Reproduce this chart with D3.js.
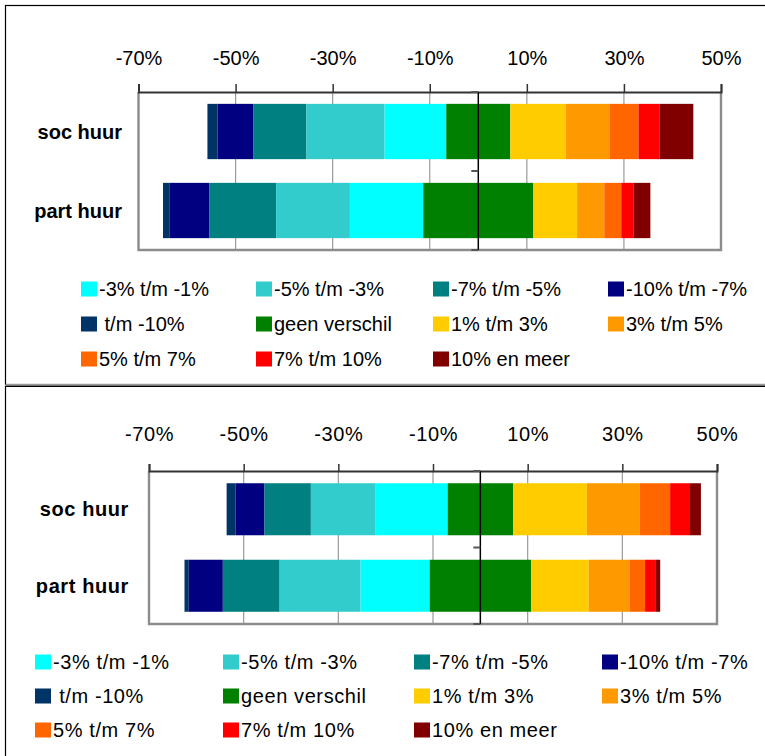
<!DOCTYPE html>
<html>
<head>
<meta charset="utf-8">
<script src="https://cdn.jsdelivr.net/npm/d3@7"></script>
<style>
  html, body { margin: 0; padding: 0; background: #fff; }
  svg { display: block; font-family: "Liberation Sans", Arial, sans-serif; }
</style>
</head>
<body>
<svg id="chart" width="765" height="756"></svg>
<script>
// Categories and classes of the difference distribution
const categories = ["soc huur", "part huur"];

// Classes in stacking order, left to right
const stackOrder = ["t/m -10%", "-10% t/m -7%", "-7% t/m -5%", "-5% t/m -3%", "-3% t/m -1%",
  "geen verschil", "1% t/m 3%", "3% t/m 5%", "5% t/m 7%", "7% t/m 10%", "10% en meer"];
const stackColors = ["#003366", "#000080", "#008080", "#33CCCC", "#00FFFF",
  "#008000", "#FFCC00", "#FF9900", "#FF6600", "#FF0000", "#800000"];

// Legend order (row by row, four per row)
const legendOrder = ["-3% t/m -1%", "-5% t/m -3%", "-7% t/m -5%", "-10% t/m -7%",
  " t/m -10%", "geen verschil", "1% t/m 3%", "3% t/m 5%",
  "5% t/m 7%", "7% t/m 10%", "10% en meer"];
const legendColors = ["#00FFFF", "#33CCCC", "#008080", "#000080",
  "#003366", "#008000", "#FFCC00", "#FF9900",
  "#FF6600", "#FF0000", "#800000"];

const tickValues = [-70, -50, -30, -10, 10, 30, 50];

// Shares (%) per class in stacking order
const upperSocHuur  = [2.1, 7.4, 10.9, 16.1, 12.7, 13.2, 11.4, 9.0, 6.0, 4.3, 7.0];
const upperPartHuur = [1.3, 8.2, 13.8, 15.2, 15.1, 22.7, 9.0, 5.6, 3.5, 2.5, 3.5];
const lowerSocHuur  = [1.9, 6.1, 9.8, 13.7, 15.2, 13.8, 15.6, 11.2, 6.4, 4.2, 2.3];
const lowerPartHuur = [0.9, 7.2, 12.0, 17.1, 14.6, 21.4, 12.2, 8.7, 3.2, 2.3, 0.9];

const svg = d3.select("#chart");

// Panel frames
svg.append("rect").attr("x", 5.5).attr("y", 5.5).attr("width", 800).attr("height", 379)
  .attr("fill", "none").attr("stroke", "#000").attr("stroke-width", 1.2);
svg.append("line").attr("x1", 5.5).attr("x2", 800).attr("y1", 384.5).attr("y2", 384.5)
  .attr("stroke", "#999").attr("stroke-width", 1);
svg.append("line").attr("x1", 5.5).attr("x2", 800).attr("y1", 386.2).attr("y2", 386.2)
  .attr("stroke", "#000").attr("stroke-width", 1.6);
svg.append("line").attr("x1", 5.5).attr("x2", 5.5).attr("y1", 386).attr("y2", 760)
  .attr("stroke", "#000").attr("stroke-width", 1.2);

function drawPanel(cfg) {
  const g = svg.append("g");
  const ls = cfg.letterSpacing;
  const x = d3.scaleLinear().domain([-70, 50]).range([cfg.x0, cfg.x1]);
  const y = d3.scaleBand().domain(categories).range([cfg.y0, cfg.y1])
    .paddingInner(cfg.padIn).paddingOuter(cfg.padOut);

  // gridlines
  g.append("g").selectAll("line").data(tickValues.slice(1, -1)).join("line")
    .attr("x1", d => x(d)).attr("x2", d => x(d))
    .attr("y1", cfg.y0).attr("y2", cfg.y1)
    .attr("stroke", "#9a9a9a").attr("stroke-width", 1.2);

  // stacked bars, neutral class centred on zero
  const rows = [cfg.soc, cfg.part];
  rows.forEach((vals, ri) => {
    const neg = d3.sum(vals.slice(0, 5));
    const start = -(neg + vals[5] / 2);
    const ends = d3.cumsum(vals).map(v => v + start);
    const segs = vals.map((v, i) => ({ a: i === 0 ? start : ends[i - 1], b: ends[i], c: stackColors[i] }));
    g.append("g").selectAll("rect").data(segs).join("rect")
      .attr("x", d => x(d.a))
      .attr("width", d => Math.max(0, x(d.b) - x(d.a)))
      .attr("y", y(categories[ri]))
      .attr("height", y.bandwidth())
      .attr("fill", d => d.c);
  });

  // plot frame (left, right, bottom)
  g.append("path")
    .attr("d", `M${cfg.x0},${cfg.y0}V${cfg.y1}H${cfg.x1}V${cfg.y0}`)
    .attr("fill", "none").attr("stroke", "#8c8c8c").attr("stroke-width", 2.4);

  // value axis on top
  const axis = d3.axisTop(x).tickValues(tickValues).tickSize(cfg.tickLen).tickPadding(cfg.tickPad)
    .tickFormat(d => d + "%");
  const ax = g.append("g").attr("transform", `translate(0,${cfg.y0})`).call(axis);
  ax.select(".domain").attr("stroke", "#333").attr("stroke-width", 2);
  ax.selectAll(".tick line").attr("stroke", "#333").attr("stroke-width", 1.5);
  ax.selectAll(".tick text").attr("fill", "#000").attr("font-size", 20)
    .style("letter-spacing", ls + "px")
    .attr("font-family", "'Liberation Sans', Arial, sans-serif");

  // category axis at zero, with ticks at the band boundaries
  const zx = x(0);
  g.append("line").attr("x1", zx).attr("x2", zx).attr("y1", cfg.y0).attr("y2", cfg.y1)
    .attr("stroke", "#000").attr("stroke-width", 1.5);
  const mid = (y(categories[0]) + y.bandwidth() + y(categories[1])) / 2;
  g.append("g").selectAll("line").data([cfg.y0, mid, cfg.y1]).join("line")
    .attr("x1", zx - 7).attr("x2", zx).attr("y1", d => d).attr("y2", d => d)
    .attr("stroke", "#555").attr("stroke-width", 2);

  // category labels
  g.append("g").selectAll("text").data(categories).join("text")
    .attr("x", cfg.labelX).attr("y", d => y(d) + y.bandwidth() / 2)
    .attr("dy", "0.35em").attr("text-anchor", "end")
    .attr("font-size", 20).attr("font-weight", "bold").attr("fill", "#000")
    .style("letter-spacing", ls + "px")
    .text(d => d);

  // legend
  const lg = g.append("g");
  legendOrder.forEach((name, i) => {
    const col = i % 4, row = Math.floor(i / 4);
    const sx = cfg.legX[col], cy = cfg.legY0 + row * cfg.legDy;
    lg.append("rect").attr("x", sx).attr("y", cy - 7.5).attr("width", 16).attr("height", 15)
      .attr("fill", legendColors[i]);
    lg.append("text").attr("x", sx + 18).attr("y", cy).attr("dy", "0.35em")
      .attr("font-size", 20).attr("fill", "#000")
      .style("letter-spacing", ls + "px")
      .style("white-space", "pre")
      .text(name);
  });
}

drawPanel({
  x0: 138.5, x1: 721, y0: 92, y1: 250, padIn: 0.3, padOut: 0.15,
  tickLen: 8, tickPad: 19, labelX: 122,
  soc: upperSocHuur, part: upperPartHuur,
  legX: [81, 256, 433, 608], legY0: 289, legDy: 35, letterSpacing: 0
});

drawPanel({
  x0: 149, x1: 717, y0: 471, y1: 624, padIn: 0.32, padOut: 0.16,
  tickLen: 7, tickPad: 23, labelX: 129,
  soc: lowerSocHuur, part: lowerPartHuur,
  legX: [35, 223, 414, 602], legY0: 662, legDy: 34, letterSpacing: 0.6
});
</script>
</body>
</html>
